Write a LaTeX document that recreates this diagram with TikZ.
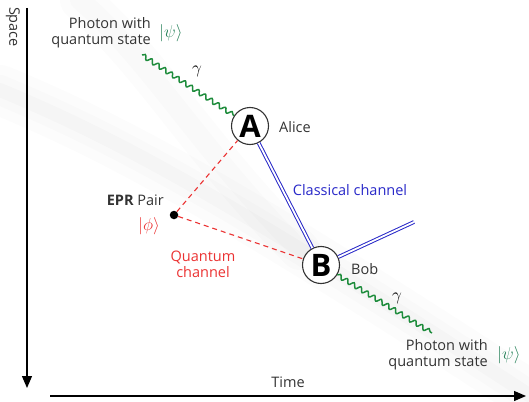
\documentclass[tikz,border=0pt]{standalone}
\usepackage{fontspec}
\setmainfont{Open Sans}
\usetikzlibrary{decorations.pathmorphing,arrows.meta,calc}
\definecolor{qgreen}{RGB}{30,140,60}
\definecolor{qred}{RGB}{235,50,50}
\definecolor{qblue}{RGB}{40,40,200}
\definecolor{psigreen}{RGB}{40,130,90}
\tikzset{
  lbl/.style={font=\fontsize{14.5}{16}\selectfont, text=black!80, inner sep=0pt},
  party/.style={circle, draw=black!80, line width=1.1pt, fill=white, minimum size=37pt, inner sep=0pt, font=\fontsize{31}{31}\selectfont\bfseries},
  photon/.style={draw=qgreen, line width=1.5pt, decorate, decoration={snake, segment length=8pt, amplitude=2.2pt}},
  quant/.style={draw=qred, line width=1.1pt, dash pattern=on 5pt off 4pt},
  classical/.style={draw=qblue, double=white, double distance=1.8pt, line width=1pt},
  axis/.style={draw=black, line width=1.3pt, -{Triangle[length=12pt,width=10pt]}},
  mathlbl/.style={inner sep=0pt, font=\fontsize{17}{17}\selectfont},
}
\begin{document}
\begin{tikzpicture}[x=1pt,y=-1pt]
\useasboundingbox (0,0) rectangle (529,401);
% faint background band
\foreach \w/\o in {50/0.012,30/0.012,14/0.015}{
  \draw[line width=\w pt, black, opacity=\o, line cap=round] (0,90) .. controls (120,140) and (230,200) .. (529,395);
}
\foreach \w/\o in {40/0.012,20/0.012}{
  \draw[line width=\w pt, black, opacity=\o, line cap=round] (80,0) .. controls (150,60) and (200,150) .. (300,250);
}
% axes
\coordinate (vtop) at (27,8);
\coordinate (vbot) at (27,388);
\coordinate (hleft) at (50,396);
\coordinate (hright) at (526,396);
\draw[axis] (vtop) -- (vbot);
\draw[axis] (hleft) -- (hright);
\node[lbl, rotate=-90] (space) at (13,27) {Space};
\node[lbl] (time) at (288,382) {Time};
% parties
\node[party] (A) at (250,126) {A};
\node[party] (B) at (321,265) {B};
\node[lbl, anchor=west] (alice) at (279,127) {Alice};
\node[lbl, anchor=west] (bob) at (351,269) {Bob};
% EPR
\node[circle, fill=black, minimum size=8.5pt, inner sep=0pt] (epr) at (174,215) {};
\node[lbl, anchor=east] (eprlbl) at (164,200) {\textbf{EPR} Pair};
\node[mathlbl, text=qred] (phi) at (149,226) {$|\phi\rangle$};
\node[lbl, text=qred, align=center] (qch) at (203,264) {Quantum\\channel};
\draw[quant] (epr) -- (A);
\draw[quant] (epr) -- (B);
% classical
\coordinate (cend) at (414,222);
\draw[classical] (A) -- (B);
\draw[classical] (B) -- (cend);
\node[lbl, text=qblue] (cch) at (350,190) {Classical channel};
% photons
\coordinate (p1) at (142,55);
\coordinate (p2) at (432,333);
\draw[photon] (p1) -- (A);
\draw[photon] (B) -- (p2);
\node[mathlbl] (g1) at (197,71) {$\gamma$};
\node[mathlbl] (g2) at (397,298) {$\gamma$};
\node[lbl, align=right, anchor=east] (ph1) at (151,33) {Photon with\\quantum state};
\node[mathlbl, text=psigreen] (psi1) at (171,33) {$|\psi\rangle$};
\node[lbl, align=right, anchor=east] (ph2) at (488,355) {Photon with\\quantum state};
\node[mathlbl, text=psigreen] (psi2) at (509,355) {$|\psi\rangle$};
\end{tikzpicture}
\end{document}
